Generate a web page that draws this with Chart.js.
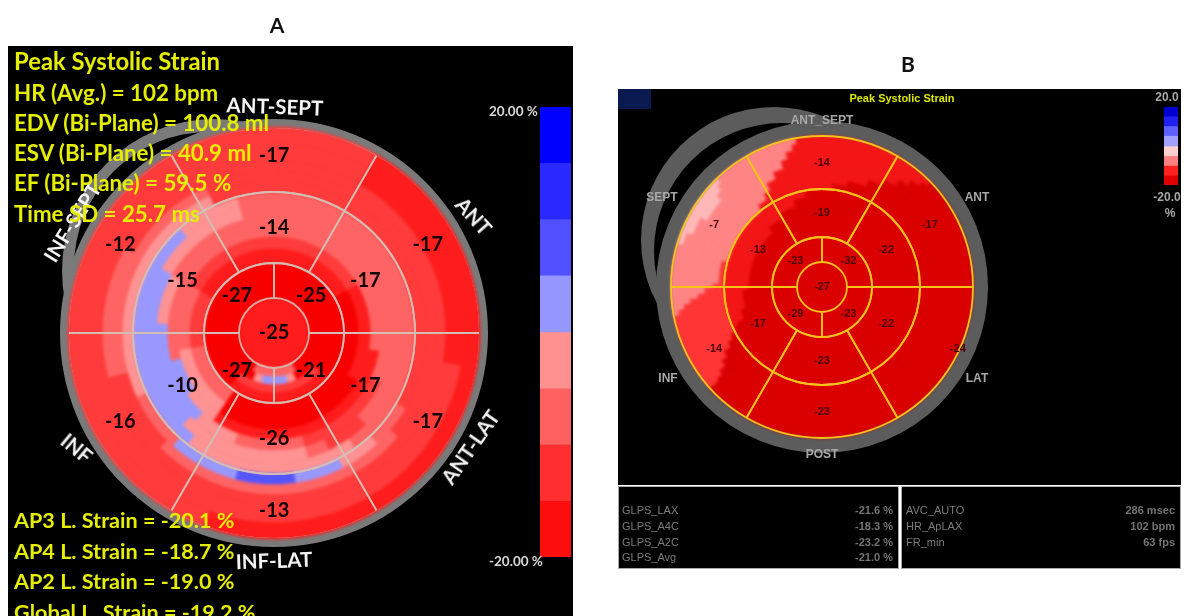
<!DOCTYPE html>
<html lang="en">
<head>
<meta charset="UTF-8">
<title>Peak Systolic Strain bullseye</title>
<script src="https://cdn.jsdelivr.net/npm/chart.js"></script>
<style>
    html, body { margin: 0; padding: 0; background: #fff; overflow: hidden; }
    #stage { position: relative; width: 1186px; height: 616px; overflow: hidden; filter: blur(0.45px); }
    .panel, canvas, .t { position: absolute; }
    .panel { background: #000; }
    .t { white-space: nowrap; line-height: 1; }
    .head { font: bold 21px Lato, sans-serif; color: #111; transform: translate(-50%, -50%); }
    .yl { font: bold 22.3px Lato, sans-serif; color: #e6ee00; left: 14px; transform: translateY(-50%); }
    .yb { font-size: 21.6px; }
    .sa { font: bold 20.5px Lato, sans-serif; color: #f4f4f4; transform: translate(-50%, -50%); }
    .sb { font: bold 12px "Liberation Sans", sans-serif; color: #a8a8a8; transform: translate(-50%, -50%); }
    .sc { font: bold 13.5px Lato, sans-serif; color: #d8d8d8; transform: translateY(-50%); }
    .st { font: 11px "Liberation Sans", sans-serif; color: #7c7c7c; transform: translateY(-50%); }
    .sr { font: bold 11px "Liberation Sans", sans-serif; color: #747474; transform: translateY(-50%); text-align: right; }
    .soft { filter: blur(1.6px); }
    #overA { clip-path: circle(205px); }
</style>
</head>
<body>
<div id="stage">
    <div class="t head" style="left:277px;top:24px">A</div>
    <div class="t head" style="left:908px;top:63px">B</div>

    <!-- plate A -->
    <div class="panel" style="left:8px;top:46px;width:565px;height:570px"></div>
    <canvas id="shellGrayA" width="308" height="308" style="left:60px;top:117px"></canvas>
    <canvas id="shellHoleA" width="274" height="274" style="left:72px;top:130px"></canvas>
    <canvas id="rimA" width="432" height="432" style="left:58px;top:117px"></canvas>
    <canvas id="contourA" class="soft" width="420" height="420" style="left:64px;top:123px"></canvas>
    <canvas id="overA" width="420" height="420" style="left:64px;top:123px"></canvas>
    <canvas id="barA" width="31" height="450" style="left:540px;top:107px"></canvas>
    <div class="t sc" style="left:489px;top:111px">20.00 %</div>
    <div class="t sc" style="left:489px;top:561px">-20.00 %</div>
    <div class="t sa" style="left:275px;top:106px;transform:translate(-50%,-50%) rotate(2deg)">ANT-SEPT</div>
    <div class="t sa" style="left:474px;top:216px;transform:translate(-50%,-50%) rotate(48deg)">ANT</div>
    <div class="t sa" style="left:470px;top:447px;transform:translate(-50%,-50%) rotate(-55deg)">ANT-LAT</div>
    <div class="t sa" style="left:274px;top:560px;transform:translate(-50%,-50%) rotate(-2deg)">INF-LAT</div>
    <div class="t sa" style="left:77px;top:448px;transform:translate(-50%,-50%) rotate(40deg)">INF</div>
    <div class="t sa" style="left:72px;top:222px;transform:translate(-50%,-50%) rotate(-58deg)">INF-SEPT</div>
    <div class="t yl" style="top:61px;font-size:23.8px">Peak Systolic Strain</div>
    <div class="t yl" style="top:92px">HR (Avg.) = 102 bpm</div>
    <div class="t yl" style="top:122px">EDV (Bi-Plane) = 100.8 ml</div>
    <div class="t yl" style="top:152px">ESV (Bi-Plane) = 40.9 ml</div>
    <div class="t yl" style="top:182px">EF (Bi-Plane) = 59.5 %</div>
    <div class="t yl" style="top:213px">Time SD = 25.7 ms</div>
    <div class="t yl yb" style="top:520px">AP3 L. Strain = -20.1 %</div>
    <div class="t yl yb" style="top:551px">AP4 L. Strain = -18.7 %</div>
    <div class="t yl yb" style="top:581px">AP2 L. Strain = -19.0 %</div>
    <div class="t yl yb" style="top:612px">Global L. Strain = -19.2 %</div>

    <!-- plate B -->
    <div class="panel" style="left:618px;top:89px;width:563px;height:396px"></div>
    <div class="panel" style="left:618px;top:89px;width:33px;height:20px;background:#0a1a50"></div>
    <canvas id="shellGrayB" width="270" height="270" style="left:639px;top:105px"></canvas>
    <canvas id="shellHoleB" width="260" height="260" style="left:652px;top:121px"></canvas>
    <canvas id="rimB" width="336" height="336" style="left:654px;top:119px"></canvas>
    <canvas id="contourB" class="soft" width="310" height="310" style="left:667px;top:132px"></canvas>
    <canvas id="overB" width="310" height="310" style="left:667px;top:132px"></canvas>
    <canvas id="barB" width="14" height="78" style="left:1164px;top:107px"></canvas>
    <div class="t" style="left:902px;top:98px;transform:translate(-50%,-50%);font:bold 11px 'Liberation Sans',sans-serif;color:#dce800">Peak Systolic Strain</div>
    <div class="t sb" style="left:1167px;top:97px">20.0</div>
    <div class="t sb" style="left:1167px;top:197px">-20.0</div>
    <div class="t sb" style="left:1170px;top:213px">%</div>
    <div class="t sb" style="left:822px;top:120px">ANT_SEPT</div>
    <div class="t sb" style="left:662px;top:197px">SEPT</div>
    <div class="t sb" style="left:977px;top:197px">ANT</div>
    <div class="t sb" style="left:668px;top:378px">INF</div>
    <div class="t sb" style="left:977px;top:378px">LAT</div>
    <div class="t sb" style="left:822px;top:454px">POST</div>

    <div class="panel" style="left:618px;top:486px;width:281px;height:83px;border:1px solid #aaa;box-sizing:border-box"></div>
    <div class="panel" style="left:901px;top:486px;width:280px;height:83px;border:1px solid #aaa;box-sizing:border-box"></div>
    <div id="statsB"></div>
</div>

<script>
    // plate A, clockwise from ANT-SEPT
    const sectorsA = ['ANT-SEPT', 'ANT', 'ANT-LAT', 'INF-LAT', 'INF', 'INF-SEPT'];
    const basalA = [-17, -17, -17, -13, -16, -12];
    const midA = [-14, -17, -17, -26, -10, -15];
    const apicalA = [-25, -21, -27, -27];
    const apexA = [-25];

    // plate B, clockwise from ANT_SEPT
    const sectorsB = ['ANT_SEPT', 'ANT', 'LAT', 'POST', 'INF', 'SEPT'];
    const basalB = [-14, -17, -24, -23, -14, -7];
    const midB = [-19, -22, -22, -23, -17, -13];
    const apicalB = [-32, -23, -29, -23];
    const apexB = [-27];

    // contour rings of plate A: End = clock angle where each run stops, Val = strain read for the run
    const a190End = [30, 200, 360], a190Val = [-18, -21, -18];
    const a172End = [30, 100, 360], a172Val = [-18, -21, -18];
    const a162End = [255, 300, 360], a162Val = [-18, -14, -18];
    const a152End = [130, 225, 255, 335, 360], a152Val = [-18, -14, -18, -14, -18];
    const a141End = [120, 137, 153, 172, 195, 222, 245, 335, 360], a141Val = [-18, -14, -9, 4, 9, 4, -14, -9, -18];
    const a130End = [145, 218, 318, 345, 360], a130Val = [-14, -9, 4, -9, -14];
    const a118End = [135, 155, 165, 225, 300, 345, 360], a118Val = [-14, -18, -14, -9, 4, -9, -14];
    const a107End = [115, 165, 200, 222, 275, 300, 360], a107Val = [-14, -18, -14, -9, 4, -9, -14];
    const a97End = [100, 215, 235, 255, 360], a97Val = [-14, -21, -9, 4, -14];
    const a85End = [60, 120, 215, 260, 300, 360], a85Val = [-18, -21, -26, -9, -14, -18];
    const a70End = [60, 215, 260, 300, 360], a70Val = [-21, -26, -14, -18, -21];
    const a60End = [130, 220, 360], a60Val = [-26, -21, -26];
    const a52End = [130, 220, 360], a52Val = [-26, -18, -26];
    const a44End = [155, 165, 195, 205, 360], a44Val = [-26, -9, 4, -9, -26];
    const a35End = [150, 210, 360], a35Val = [-26, -14, -26];
    const a0End = [360], a0Val = [-21];

    // contour rings of plate B
    const b146End = [46, 228, 259, 287, 316, 350, 360], b146Val = [-16, -23, -13, -9, -5, -9, -16];
    const b140End = [44, 228, 261, 292, 314, 348, 360], b140Val = [-16, -23, -13, -9, -5, -9, -16];
    const b133End = [40, 229, 263, 300, 311, 345, 360], b133Val = [-16, -23, -13, -9, -5, -9, -16];
    const b125End = [36, 231, 265, 342, 360], b125Val = [-16, -23, -13, -9, -16];
    const b118End = [30, 234, 267, 337, 360], b118Val = [-16, -23, -13, -9, -16];
    const b110End = [24, 237, 270, 332, 360], b110Val = [-16, -23, -13, -9, -16];
    const b104End = [14, 240, 272, 328, 360], b104Val = [-16, -23, -13, -9, -16];
    const b98End = [6, 243, 285, 322, 360], b98Val = [-16, -23, -13, -9, -16];
    const b92End = [246, 350, 360], b92Val = [-23, -16, -23];
    const b85End = [248, 342, 360], b85Val = [-23, -16, -23];
    const b80End = [255, 330, 360], b80Val = [-23, -16, -23];
    const b74End = [268, 318, 360], b74Val = [-23, -16, -23];
    const b0End = [360], b0Val = [-23];

    // colour steps
    const stepsA = [-26, -21, -18, -14, -9, 4, 9];
    const coloursA = ['#f80000', '#ff1c1c', '#ff3b3b', '#ff6464', '#ff9292', '#9898ff', '#5555ff'];
    const stepsB = [-23, -16, -13, -9, -5];
    const coloursB = ['#da0000', '#f41616', '#ff3535', '#ff8585', '#ffb8b8'];

    // colour bars, from the zero line out
    const barValues = [5, 5, 5, 5, -5, -5, -5, -5];
    const barColoursA = ['#9696ff', '#5050ff', '#2828ff', '#0000ff', '#ff9090', '#ff6060', '#ff2f2f', '#ff0e0e'];
    const barColoursB = ['#a0a0ff', '#6060ff', '#2020f0', '#0000d0', '#ffd0d0', '#ff8080', '#ff2020', '#e00000'];

    // stats table of plate B
    const statNamesL = ['GLPS_LAX', 'GLPS_A4C', 'GLPS_A2C', 'GLPS_Avg'];
    const statValuesL = ['-21.6 %', '-18.3 %', '-23.2 %', '-21.0 %'];
    const statNamesR = ['AVC_AUTO', 'HR_ApLAX', 'FR_min'];
    const statValuesR = ['286 msec', '102 bpm', '63 fps'];

    Chart.defaults.animation = false;

    // writes the strain number of each segment at the arc's own centre
    const segmentLabels = {
        id: 'segmentLabels',
        afterDatasetsDraw(chart) {
            const ctx = chart.ctx;
            chart.data.datasets.forEach((ds, d) => {
                if (!ds.values) return;
                chart.getDatasetMeta(d).data.forEach((arc, i) => {
                    const mid = (arc.startAngle + arc.endAngle) / 2;
                    const r = (arc.innerRadius + arc.outerRadius) / 2 + (ds.labelOut || 0);
                    const full = ds.values.length === 1;
                    const x = arc.x + (full ? 0 : Math.cos(mid) * r) + (ds.shiftX ? ds.shiftX[i] : 0);
                    const y = arc.y + (full ? 0 : Math.sin(mid) * r);
                    ctx.save();
                    ctx.font = chart.options.labelFont;
                    ctx.fillStyle = chart.options.labelColor;
                    ctx.textAlign = 'center';
                    ctx.textBaseline = 'middle';
                    ctx.fillText(String(ds.values[i]), x, y);
                    ctx.restore();
                });
            });
        }
    };

    function plainDoughnut(id, radius, datasets, extra, labels) {
        return new Chart(document.getElementById(id), {
            type: 'doughnut',
            data: { labels: labels || [], datasets: datasets },
            options: Object.assign({
                responsive: false,
                cutout: 0,
                radius: radius,
                events: [],
                plugins: { legend: { display: false }, tooltip: { enabled: false } }
            }, extra || {}),
            plugins: [segmentLabels]
        });
    }

    function contourRing(ends, vals, thick, steps, colours) {
        const fill = vals.map(v => colours[steps.indexOf(v)]);
        const spans = ends.map((e, i) => e - (i ? ends[i - 1] : 0));
        return { data: spans, weight: thick, backgroundColor: fill, borderColor: fill, borderWidth: 1 };
    }

    function solidDisc(id, radius, colour) {
        plainDoughnut(id, radius, [{ data: [1], backgroundColor: colour, borderWidth: 0 }]);
    }

    function segmentRing(values, thick, line, width, rotation) {
        return {
            values: values,
            data: values.map(() => 1), weight: thick, rotation: rotation,
            backgroundColor: 'rgba(0,0,0,0)', borderColor: line, borderWidth: width
        };
    }

    function colourBar(id, colours) {
        new Chart(document.getElementById(id), {
            type: 'bar',
            data: {
                labels: ['strain'],
                datasets: barValues.map((v, i) => ({
                    data: [v], backgroundColor: colours[i], barPercentage: 1, categoryPercentage: 1
                }))
            },
            options: {
                responsive: false,
                events: [],
                plugins: { legend: { display: false }, tooltip: { enabled: false } },
                scales: {
                    x: { display: false, stacked: true },
                    y: { display: false, stacked: true, min: -20, max: 20 }
                }
            }
        });
    }

    // plate A
    const grayA = '#7a7a7a';
    solidDisc('shellGrayA', 152, grayA);
    solidDisc('shellHoleA', 135, '#000');
    solidDisc('rimA', 214, grayA);
    const ringA = (e, v, t) => contourRing(e, v, t, stepsA, coloursA);
    plainDoughnut('contourA', 206, [
        ringA(a190End, a190Val, 16), ringA(a172End, a172Val, 18), ringA(a162End, a162Val, 10),
        ringA(a152End, a152Val, 10), ringA(a141End, a141Val, 11), ringA(a130End, a130Val, 11),
        ringA(a118End, a118Val, 12), ringA(a107End, a107Val, 11), ringA(a97End, a97Val, 10),
        ringA(a85End, a85Val, 12), ringA(a70End, a70Val, 15), ringA(a60End, a60Val, 10),
        ringA(a52End, a52Val, 8), ringA(a44End, a44Val, 8), ringA(a35End, a35Val, 9),
        ringA(a0End, a0Val, 35)
    ]);
    const lineA = 'rgba(212,190,180,0.9)';
    const basalRingA = segmentRing(basalA, 65, lineA, 1.8, -30);
    basalRingA.labelOut = 4;
    plainDoughnut('overA', 206, [
        basalRingA,
        segmentRing(midA, 71, lineA, 1.8, -30),
        segmentRing(apicalA, 35, lineA, 1.8, 0),
        segmentRing(apexA, 35, lineA, 0, 0)
    ], { labelFont: 'bold 20px Lato, sans-serif', labelColor: '#140000' }, sectorsA);
    colourBar('barA', barColoursA);

    // plate B
    const grayB = '#5c5c5c';
    solidDisc('shellGrayB', 133, grayB);
    solidDisc('shellHoleB', 128, '#000');
    solidDisc('rimB', 166, grayB);
    const ringB = (e, v, t) => contourRing(e, v, t, stepsB, coloursB);
    plainDoughnut('contourB', 151, [
        ringB(b146End, b146Val, 5), ringB(b140End, b140Val, 6), ringB(b133End, b133Val, 7),
        ringB(b125End, b125Val, 8), ringB(b118End, b118Val, 7), ringB(b110End, b110Val, 8),
        ringB(b104End, b104Val, 6), ringB(b98End, b98Val, 6), ringB(b92End, b92Val, 6),
        ringB(b85End, b85Val, 7), ringB(b80End, b80Val, 5), ringB(b74End, b74Val, 6),
        ringB(b0End, b0Val, 74)
    ]);
    const lineB = '#f7c21a';
    const basalRingB = segmentRing(basalB, 53, lineB, 1.8, -30);
    basalRingB.shiftX = [0, 0, 28, 0, 0, 0];
    plainDoughnut('overB', 151, [
        basalRingB,
        segmentRing(midB, 48, lineB, 1.8, -30),
        segmentRing(apicalB, 25, lineB, 1.8, 0),
        segmentRing(apexB, 25, lineB, 0, 0)
    ], { labelFont: 'bold 11px "Liberation Sans", sans-serif', labelColor: '#4a0000' }, sectorsB);
    colourBar('barB', barColoursB);

    // stats rows
    const rowTops = [510, 526, 542, 557];
    const statsBox = document.getElementById('statsB');
    function addStat(text, cls, left, right, top) {
        const el = document.createElement('div');
        el.className = 't ' + cls;
        el.textContent = text;
        el.style.top = top + 'px';
        if (left !== null) el.style.left = left + 'px';
        if (right !== null) el.style.right = right + 'px';
        statsBox.appendChild(el);
    }
    statNamesL.forEach((n, i) => {
        addStat(n, 'st', 622, null, rowTops[i]);
        addStat(statValuesL[i], 'sr', null, 293, rowTops[i]);
    });
    statNamesR.forEach((n, i) => {
        addStat(n, 'st', 906, null, rowTops[i]);
        addStat(statValuesR[i], 'sr', null, 11, rowTops[i]);
    });
</script>
</body>
</html>
